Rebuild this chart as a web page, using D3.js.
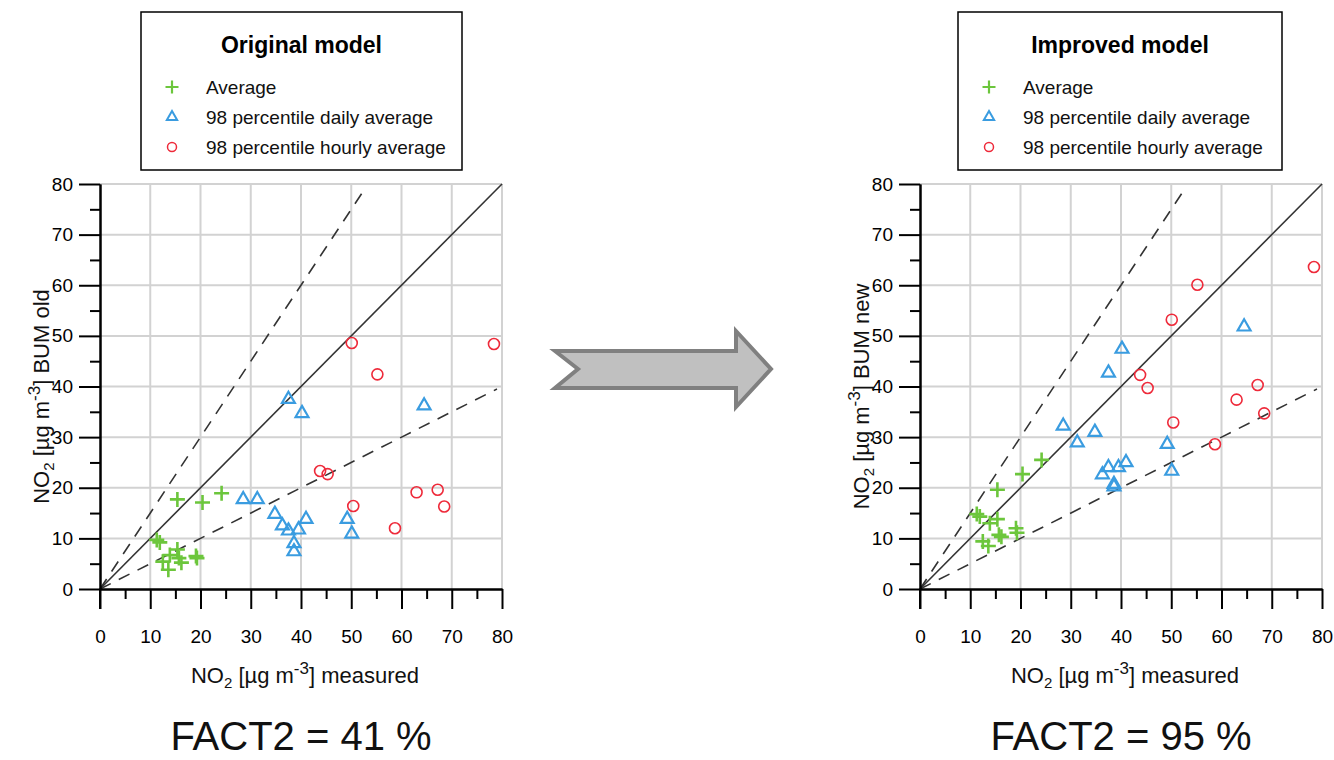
<!DOCTYPE html>
<html><head><meta charset="utf-8">
<script src="https://cdn.jsdelivr.net/npm/d3@7"></script>
<style>body{margin:0;background:#fff}svg{display:block;font-family:"Liberation Sans",Arial,sans-serif}</style>
</head><body><svg id="c" width="1334" height="760"></svg>
<script>
// ---- data ----
const avgMeasured = [24.2, 20.4, 15.4, 11.3, 11.9, 15.4, 13.9, 15.7, 16.2, 19.1, 19.3, 12.5, 13.6];
const avgOld      = [18.9, 17.1, 17.7, 9.7, 9.2, 7.8, 6.7, 6.1, 5.2, 6.5, 6.1, 5.4, 3.8];
const avgNew      = [25.5, 22.7, 19.6, 14.8, 14.3, 13.8, 13.0, 10.7, 10.3, 12.0, 11.1, 9.4, 8.5];

const dailyMeasured = [28.5, 31.3, 34.8, 36.3, 37.5, 37.5, 39.5, 40.2, 41.0, 38.6, 38.6, 49.2, 50.1, 64.5];
const dailyOld      = [17.7, 17.7, 14.8, 12.5, 37.5, 11.5, 11.7, 34.7, 13.8, 9.0, 7.4, 13.8, 10.9, 36.2];
const dailyNew      = [32.2, 28.9, 31.0, 22.6, 42.7, 24.0, 24.0, 47.4, 25.0, 20.7, 20.2, 28.6, 23.3, 51.8];

const hourlyMeasured = [50.1, 55.2, 78.4, 43.8, 45.3, 50.4, 63.0, 67.2, 68.5, 58.7];
const hourlyOld      = [48.6, 42.4, 48.4, 23.3, 22.7, 16.4, 19.1, 19.6, 16.3, 12.0];
const hourlyNew      = [53.2, 60.1, 63.6, 42.3, 39.7, 32.9, 37.4, 40.3, 34.7, 28.6];

const majorTicks = [0, 10, 20, 30, 40, 50, 60, 70, 80];
const minorTicks = [5, 15, 25, 35, 45, 55, 65, 75];
const seriesNames = ["Average", "98 percentile daily average", "98 percentile hourly average"];
const panelTitles = ["Original model", "Improved model"];
const yLabelSuffix = ["BUM old", "BUM new"];
const factLabels = ["FACT2 = 41 %", "FACT2 = 95 %"];
const refSlopes = [1, 1.5, 0.5];
const refEnds = [80, 53, 79];

// ---- drawing ----
const svg = d3.select("#c");
const GREEN = "#6cc63c", BLUE = "#3a9ce0", RED = "#ee2a3a";

function cross(g, s, sw) {
  return g.append("path").attr("d", `M${-s},0H${s}M0,${-s}V${s}`).attr("stroke", GREEN).attr("stroke-width", sw).attr("fill", "none");
}
const triPath = d3.symbol(d3.symbolTriangle, 72)();
const triPathSmall = d3.symbol(d3.symbolTriangle, 46)();

const panels = [
  {ox: 100, leg: [141, 462], avg: avgOld, daily: dailyOld, hourly: hourlyOld},
  {ox: 920, leg: [958, 1282], avg: avgNew, daily: dailyNew, hourly: hourlyNew}
];

function addNO2(t, rest) {
  t.append("tspan").text("NO");
  t.append("tspan").text("2").attr("font-size", 15).attr("dy", 5);
  t.append("tspan").text(" [µg m").attr("dy", -5);
  t.append("tspan").text("-3").attr("font-size", 17).attr("dy", -9);
  t.append("tspan").text("] " + rest).attr("dy", 9);
}

panels.forEach((p, i) => {
  const x = d3.scaleLinear().domain([0, 80]).range([p.ox, p.ox + 402]);
  const y = d3.scaleLinear().domain([0, 80]).range([589, 184]);
  const g = svg.append("g");

  // grid
  g.selectAll(".gx").data(majorTicks.slice(1)).join("line")
    .attr("x1", d => x(d)).attr("x2", d => x(d)).attr("y1", y(0)).attr("y2", y(80))
    .attr("stroke", "#d2d2d2").attr("stroke-width", 2);
  g.selectAll(".gy").data(majorTicks.slice(1)).join("line")
    .attr("y1", d => y(d)).attr("y2", d => y(d)).attr("x1", x(0)).attr("x2", x(80))
    .attr("stroke", "#d2d2d2").attr("stroke-width", 2);

  // reference lines
  refSlopes.forEach((s, k) => {
    const xEnd = refEnds[k];
    g.append("line").attr("x1", x(0)).attr("y1", y(0)).attr("x2", x(xEnd)).attr("y2", y(xEnd * s))
      .attr("stroke", "#333").attr("stroke-width", 1.6)
      .attr("stroke-dasharray", s === 1 ? null : "12,9");
  });

  // axes
  const xg = g.append("g").attr("transform", `translate(0,${y(0)})`)
    .call(d3.axisBottom(x).tickValues(majorTicks).tickSize(20).tickPadding(21).tickSizeOuter(0));
  const xmin = g.append("g").attr("transform", `translate(0,${y(0)})`)
    .call(d3.axisBottom(x).tickValues(minorTicks).tickSize(10).tickFormat("").tickSizeOuter(0));
  const yg = g.append("g").attr("transform", `translate(${x(0)},0)`)
    .call(d3.axisLeft(y).tickValues(majorTicks).tickSize(21).tickPadding(6).tickSizeOuter(0));
  const ymin = g.append("g").attr("transform", `translate(${x(0)},0)`)
    .call(d3.axisLeft(y).tickValues(minorTicks).tickSize(10).tickFormat("").tickSizeOuter(0));
  [xg, xmin, yg, ymin].forEach(a => {
    a.selectAll("line").attr("stroke", "#000").attr("stroke-width", 2);
    a.select(".domain").attr("stroke", "#000").attr("stroke-width", 2);
    a.selectAll("text").attr("font-size", 19).attr("fill", "#000").attr("font-family", "Liberation Sans, Arial, sans-serif");
  });
  g.append("line").attr("x1", x(0)).attr("x2", x(0)).attr("y1", y(0)).attr("y2", y(0) + 20).attr("stroke", "#000").attr("stroke-width", 2);

  // points
  const avgG = g.append("g");
  p.avg.forEach((v, k) => {
    cross(avgG.append("g").attr("transform", `translate(${x(avgMeasured[k])},${y(v)})`), 7.5, 2.6);
  });
  g.selectAll(".tri").data(p.daily).join("path")
    .attr("d", triPath)
    .attr("transform", (d, k) => `translate(${x(dailyMeasured[k])},${y(d)})`)
    .attr("fill", "none").attr("stroke", BLUE).attr("stroke-width", 2.2);
  g.selectAll(".circ").data(p.hourly).join("circle")
    .attr("cx", (d, k) => x(hourlyMeasured[k])).attr("cy", d => y(d)).attr("r", 5.5)
    .attr("fill", "none").attr("stroke", RED).attr("stroke-width", 1.6);

  // axis labels
  const cx = (x(0) + x(80)) / 2;
  const xl = svg.append("text").attr("x", cx + 4).attr("y", 683).attr("text-anchor", "middle")
    .attr("font-size", 22).attr("fill", "#111");
  addNO2(xl, "measured");

  const yl = svg.append("text").attr("transform", `translate(${p.ox - 51},${(y(0) + y(80)) / 2 + 10}) rotate(-90)`)
    .attr("text-anchor", "middle").attr("font-size", 22).attr("fill", "#111");
  addNO2(yl, yLabelSuffix[i]);

  // legend
  const [lx0, lx1] = p.leg;
  const lg = svg.append("g");
  lg.append("rect").attr("x", lx0).attr("y", 12).attr("width", lx1 - lx0).attr("height", 158)
    .attr("fill", "#fff").attr("stroke", "#000").attr("stroke-width", 1.5);
  lg.append("text").attr("x", (lx0 + lx1) / 2).attr("y", 53).attr("text-anchor", "middle")
    .attr("font-size", 23).attr("font-weight", "bold").attr("fill", "#000").text(panelTitles[i]);
  const mx = lx0 + 31, tx = lx0 + 65;
  const rows = [87, 117, 147];
  cross(lg.append("g").attr("transform", `translate(${mx},${rows[0]})`), 6.5, 2.2);
  lg.append("path").attr("d", triPathSmall).attr("transform", `translate(${mx},${rows[1]})`)
    .attr("fill", "none").attr("stroke", BLUE).attr("stroke-width", 2);
  lg.append("circle").attr("cx", mx).attr("cy", rows[2]).attr("r", 4.5)
    .attr("fill", "none").attr("stroke", RED).attr("stroke-width", 1.5);
  seriesNames.forEach((s, k) => {
    lg.append("text").attr("x", tx).attr("y", rows[k] + 7).attr("font-size", 19).attr("fill", "#111").text(s);
  });

  // FACT2
  svg.append("text").attr("x", cx).attr("y", 750).attr("text-anchor", "middle")
    .attr("font-size", 40).attr("fill", "#111").text(factLabels[i]);
});

// arrow
svg.append("polygon")
  .attr("points", [[555, 351], [578, 369], [555, 388], [736, 388], [736, 407], [771, 369], [736, 331], [736, 351]].map(d => d.join(",")).join(" "))
  .attr("fill", "#c0c0c0").attr("stroke", "#808080").attr("stroke-width", 4).attr("stroke-linejoin", "miter");
</script></body></html>
